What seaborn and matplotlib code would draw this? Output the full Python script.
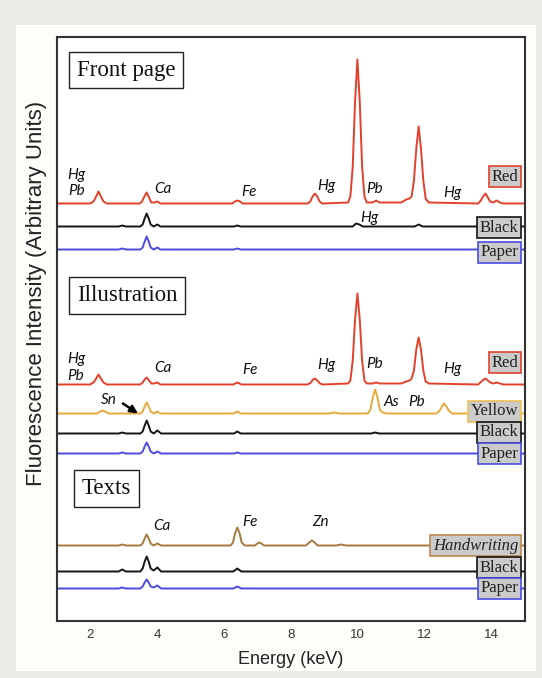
import matplotlib
matplotlib.use("Agg")
import matplotlib.pyplot as plt
from matplotlib.ticker import MultipleLocator
import seaborn as sns
import pandas as pd

# ---------------- data (energy keV, intensity in arbitrary offset units) -------------
front_red = [(1.0,417),(2.0,417),(2.1,419),(2.18,424),(2.25,429),(2.32,424),(2.4,419),(2.5,417),
             (3.48,417),(3.55,419),(3.62,424),(3.69,428),(3.76,423),(3.83,418),(3.92,418),(4.01,419),(4.1,417),
             (6.25,417),(6.33,419),(6.4,420),(6.48,419),(6.56,417),
             (8.5,417),(8.58,419),(8.65,424),(8.72,427),(8.79,424),(8.86,419),(8.94,417),
             (9.71,418),(9.78,424),(9.85,454),(9.92,519),(9.99,561),(10.06,519),(10.13,454),(10.2,424),(10.27,418),
             (10.45,418),(10.55,420),(10.65,418),
             (11.3,418),(11.45,421),(11.55,422),(11.61,424),(11.68,440),(11.75,472),(11.82,494),(11.89,472),
             (11.96,440),(12.03,422),(12.12,418),
             (13.6,417),(13.68,420),(13.75,424),(13.82,427),(13.89,423),(13.96,419),(14.05,418),(14.15,420),
             (14.25,418),(14.35,417),(15.0,417)]
front_black = [(1.0,394),(2.85,394),(2.96,395),(3.07,394),(3.5,394),(3.57,396),(3.63,402),(3.69,407),
               (3.75,402),(3.81,396),(3.9,394),(4.01,396),(4.1,394),(6.3,394),(6.4,395),(6.5,394),
               (9.85,394),(9.95,397),(10.05,396),(10.15,394),(11.7,394),(11.82,396),(11.94,394),(15.0,394)]
front_paper = [(1.0,371),(2.85,371),(2.96,372),(3.07,371),(3.5,371),(3.57,373),(3.63,379),(3.69,384),
               (3.75,379),(3.81,373),(3.9,371),(4.01,373),(4.1,371),(6.3,371),(6.4,372),(6.5,371),(15.0,371)]

ill_red = [(1.0,236),(2.0,236),(2.1,238),(2.18,242),(2.25,246),(2.32,242),(2.4,238),(2.5,236),
           (3.5,236),(3.57,238),(3.63,241),(3.69,243),(3.76,240),(3.83,237),(3.92,237),(4.01,238),(4.1,236),
           (6.28,236),(6.4,238),(6.52,236),
           (8.5,236),(8.6,238),(8.66,241),(8.72,242),(8.79,240),(8.87,237),(8.95,236),
           (9.71,237),(9.78,240),(9.85,260),(9.92,301),(9.99,327),(10.06,301),(10.13,260),(10.2,240),(10.27,237),
           (10.45,237),(10.55,238),(10.65,237),
           (11.3,237),(11.45,239),(11.55,240),(11.61,242),(11.68,250),(11.75,271),(11.82,283),(11.89,271),
           (11.96,250),(12.03,239),(12.12,237),
           (13.6,236),(13.7,239),(13.76,241),(13.82,242),(13.89,240),(13.96,238),(14.05,237),(14.15,238),
           (14.25,237),(14.35,236),(15.0,236)]
ill_yellow = [(1.0,207),(2.2,207),(2.3,209),(2.37,210),(2.45,209),(2.55,207),
              (3.5,207),(3.57,209),(3.63,214),(3.69,218),(3.75,214),(3.81,209),(3.9,207),(4.01,209),(4.1,207),
              (6.3,207),(6.4,209),(6.5,207),(9.15,207),(9.3,208),(9.45,207),
              (10.3,207),(10.38,211),(10.45,223),(10.52,231),(10.59,223),(10.66,211),(10.74,208),(10.85,207),
              (12.35,207),(12.45,210),(12.52,214),(12.58,217),(12.65,214),(12.72,210),(12.82,207),(15.0,207)]
ill_black = [(1.0,187),(2.85,187),(2.96,188),(3.07,187),(3.5,187),(3.57,189),(3.63,195),(3.69,200),
             (3.75,195),(3.81,189),(3.9,187),(4.01,190),(4.12,187),(6.3,187),(6.4,189),(6.5,187),
             (10.4,187),(10.52,188),(10.64,187),(15.0,187)]
ill_paper = [(1.0,167),(2.85,167),(2.96,168),(3.07,167),(3.5,167),(3.57,169),(3.63,174),(3.69,178),
             (3.75,174),(3.81,169),(3.9,167),(4.01,169),(4.12,167),(6.3,167),(6.4,168),(6.5,167),(15.0,167)]

txt_hand = [(1.0,75),(2.85,75),(2.96,76),(3.07,75),(3.5,75),(3.57,77),(3.63,82),(3.69,86),(3.75,82),
            (3.81,77),(3.9,75),(4.01,77),(4.12,75),
            (6.2,75),(6.27,78),(6.33,87),(6.4,93),(6.47,87),(6.53,78),(6.62,75),
            (6.92,75),(7.0,77),(7.06,78),(7.12,77),(7.2,75),
            (8.45,75),(8.55,78),(8.63,80),(8.71,78),(8.8,75),(9.35,75),(9.5,76),(9.65,75),(15.0,75)]
txt_black = [(1.0,49),(2.85,49),(2.96,51),(3.07,49),(3.5,49),(3.57,52),(3.63,59),(3.69,64),(3.75,59),
             (3.81,52),(3.9,50),(4.01,53),(4.12,49),(6.28,49),(6.4,52),(6.52,49),(15.0,49)]
txt_paper = [(1.0,32),(2.85,32),(2.96,33),(3.07,32),(3.5,32),(3.57,34),(3.63,38),(3.69,41),(3.75,38),
             (3.81,34),(3.9,33),(4.01,35),(4.12,32),(6.28,32),(6.4,34),(6.52,32),(15.0,32)]

spectra = {
    "front_red": front_red, "front_black": front_black, "front_paper": front_paper,
    "ill_red": ill_red, "ill_yellow": ill_yellow, "ill_black": ill_black, "ill_paper": ill_paper,
    "txt_hand": txt_hand, "txt_black": txt_black, "txt_paper": txt_paper,
}

RED, BLACK, BLUE, YELLOW, BROWN = "#e2412b", "#141414", "#4b4be0", "#e8a93a", "#a6793f"
palette = {"front_red": RED, "front_black": BLACK, "front_paper": BLUE,
           "ill_red": RED, "ill_yellow": YELLOW, "ill_black": BLACK, "ill_paper": BLUE,
           "txt_hand": BROWN, "txt_black": BLACK, "txt_paper": BLUE}

# section titles: (text, x, y)
sections = [("Front page", 3.07, 550.5), ("Illustration", 3.10, 325), ("Texts", 2.49, 132)]
# sample labels: (text, y, edge colour, italic)
samples = [("Red", 444, RED, False), ("Black", 393, BLACK, False), ("Paper", 368.5, BLUE, False),
           ("Red", 258, RED, False), ("Yellow", 209.5, "#f0c050", False), ("Black", 188, BLACK, False),
           ("Paper", 167, BLUE, False),
           ("Handwriting", 75, "#c08850", True), ("Black", 53, BLACK, False), ("Paper", 32, BLUE, False)]
# element labels: (text, x, y)
elements = [("Hg", 1.59, 446), ("Pb", 1.58, 430), ("Ca", 4.18, 432), ("Fe", 6.75, 429),
            ("Hg", 9.07, 435), ("Pb", 10.5, 432), ("Hg", 12.83, 428), ("Hg", 10.34, 402.5),
            ("Hg", 1.58, 262), ("Pb", 1.56, 245), ("Ca", 4.18, 252), ("Fe", 6.77, 250),
            ("Hg", 9.07, 255), ("Pb", 10.5, 256), ("Hg", 12.83, 251),
            ("As", 11.0, 218), ("Pb", 11.75, 218.5), ("Sn", 2.56, 221),
            ("Ca", 4.13, 94.5), ("Fe", 6.77, 98), ("Zn", 8.89, 98.5)]
xticks = [2, 4, 6, 8, 10, 12, 14]

# ---------------- build table ----------------
rows = []
for name, pts in spectra.items():
    for i, (e, v) in enumerate(pts):
        rows.append({"spectrum": name, "order": i, "energy": e, "intensity": v})
df = pd.DataFrame(rows)

sns.set_style("white")
plt.rcParams["font.family"] = ["Liberation Sans", "DejaVu Sans"]

W, H = 542, 678
fig = plt.figure(figsize=(5.42, 6.78), dpi=100, facecolor="#ebebe6")
bg = fig.add_axes([16/W, 1-671/H, (536-16)/W, (671-25)/H], zorder=-10)
bg.set_facecolor("#fdfdfa")
bg.set_xticks([]); bg.set_yticks([])
for s in bg.spines.values():
    s.set_visible(False)

ax = fig.add_axes([56.7/W, 1-620.5/H, (525-56.7)/W, (620.5-36.7)/H], zorder=1)
ax.set_facecolor("white")

sns.lineplot(data=df, x="energy", y="intensity", hue="spectrum", palette=palette,
             estimator=None, sort=False, units="spectrum", legend=False, lw=1.4, ax=ax)

ax.set_xlim(1, 15)
ax.set_ylim(0, 583.8)
ax.set_xticks(xticks)
ax.xaxis.set_minor_locator(MultipleLocator(0.5))
ax.set_yticks([])
ax.tick_params(axis="x", which="major", direction="in", length=6, width=1.3,
               labelsize=9.5, pad=6, colors="#333333", labelcolor="#333333")
ax.tick_params(axis="x", which="minor", direction="in", length=3, width=1.0, colors="#333333")
for s in ax.spines.values():
    s.set_color("#333333")
    s.set_linewidth(1.5)
ax.set_xlabel("")
ax.set_ylabel("")

fig.text(291/W, 1-659/H, "Energy (keV)", fontsize=13, color="#222222", ha="center", va="center")
fig.text(36.5/W, 1-293/H, "Fluorescence Intensity (Arbitrary Units)", fontsize=16,
         color="#222222", ha="center", va="center", rotation=90)

serif = ["Liberation Serif", "DejaVu Serif"]
for t, x, y in sections:
    ax.text(x, y, t, fontsize=16.5, family=serif, ha="center", va="center", color="#111111",
            bbox=dict(boxstyle="square,pad=0.34", facecolor="white", edgecolor="#222222", lw=1.0),
            zorder=5)

for t, y, ec, it in samples:
    ax.text(14.89 - 3/33.5, y, t, fontsize=12, family=serif, style="italic" if it else "normal",
            ha="right", va="center", color="#222222",
            bbox=dict(boxstyle="square,pad=0.15", facecolor="#cbcbcb", edgecolor=ec, lw=1.2),
            zorder=5)

for t, x, y in elements:
    ax.text(x, y, t, fontsize=11, family=["Lato", "DejaVu Sans"], style="italic",
            ha="center", va="center", color="#111111", zorder=5)

ax.annotate("", xy=(3.43, 207), xytext=(2.98, 217),
            arrowprops=dict(arrowstyle="-|>,head_length=0.45,head_width=0.22", color="black",
                            lw=1.8, shrinkA=0, shrinkB=0),
            zorder=6)

fig.savefig("out.png", dpi=100, facecolor=fig.get_facecolor())
